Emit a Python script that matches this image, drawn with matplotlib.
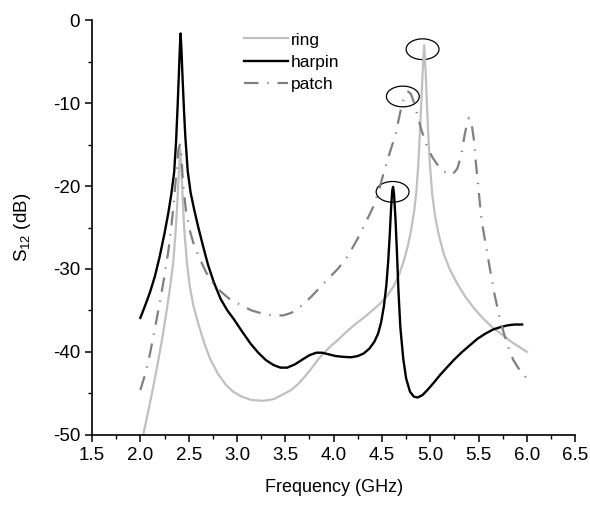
import matplotlib
matplotlib.use("Agg")
import matplotlib.pyplot as plt
from matplotlib.patches import Ellipse
from matplotlib.ticker import MultipleLocator

plt.rcParams['font.family'] = ['Liberation Sans', 'DejaVu Sans']
plt.rcParams['mathtext.default'] = 'regular'
plt.rcParams['axes.unicode_minus'] = False

# ring resonator
ring_f = [2.03, 2.07, 2.12, 2.17, 2.22, 2.27, 2.31, 2.34, 2.365, 2.385, 2.40, 2.412,
          2.425, 2.44, 2.455, 2.48, 2.51, 2.55, 2.60, 2.66, 2.72, 2.80, 2.88, 2.96,
          3.05, 3.15, 3.27, 3.38, 3.48, 3.56, 3.63, 3.70, 3.77, 3.84, 3.90, 3.97, 4.05,
          4.14, 4.23, 4.32, 4.41, 4.48, 4.55, 4.62, 4.68, 4.73, 4.77, 4.80, 4.83, 4.855,
          4.875, 4.893, 4.907, 4.92, 4.937, 4.953, 4.965, 4.978, 4.995, 5.02, 5.05,
          5.09, 5.14, 5.20, 5.28, 5.36, 5.45, 5.54, 5.64, 5.74, 5.84, 5.92, 6.00]
ring_db = [-50.0, -47.8, -45.0, -42.0, -38.8, -35.2, -32.0, -29.2, -25.5, -21.5, -18.0,
           -15.5, -18.0, -22.0, -25.3, -29.0, -32.0, -34.5, -36.6, -38.9, -40.8, -42.6,
           -43.9, -44.8, -45.4, -45.8, -45.9, -45.7, -45.1, -44.6, -43.9, -43.0, -42.0,
           -40.9, -40.1, -39.3, -38.5, -37.5, -36.6, -35.8, -34.9, -34.2, -33.3, -32.1,
           -30.6, -28.9, -27.1, -25.4, -23.3, -20.8, -17.6, -13.5, -10.0, -6.5, -3.0,
           -6.5, -10.0, -13.5, -17.2, -21.0, -23.7, -26.0, -28.2, -30.0, -31.8, -33.3,
           -34.7, -35.9, -37.0, -37.9, -38.8, -39.4, -40.0]

# hairpin resonator
harpin_f = [2.00, 2.05, 2.10, 2.15, 2.20, 2.25, 2.29, 2.32, 2.35, 2.37, 2.385, 2.40,
            2.41, 2.416, 2.425, 2.435, 2.45, 2.465, 2.49, 2.52, 2.56, 2.60, 2.65, 2.70,
            2.76, 2.83, 2.90, 2.97, 3.05, 3.14, 3.22, 3.30, 3.38, 3.45, 3.52, 3.60,
            3.68, 3.75, 3.82, 3.88, 3.95, 4.02, 4.10, 4.18, 4.25, 4.31, 4.37, 4.42,
            4.46, 4.49, 4.52, 4.545, 4.565, 4.58, 4.595, 4.607, 4.615, 4.625, 4.64,
            4.655, 4.67, 4.69, 4.72, 4.75, 4.79, 4.83, 4.87, 4.92, 4.97, 5.03, 5.10,
            5.17, 5.25, 5.33, 5.41, 5.49, 5.57, 5.65, 5.73, 5.80, 5.87, 5.95]
harpin_db = [-35.9, -34.4, -32.8, -30.9, -28.5, -25.7, -23.2, -21.0, -18.3, -14.5,
             -10.5, -6.0, -3.0, -1.6, -3.5, -6.5, -10.5, -14.0, -18.2, -20.8, -23.0,
             -25.0, -27.3, -29.5, -31.6, -33.6, -35.0, -36.1, -37.5, -39.0, -40.1,
             -41.0, -41.6, -41.9, -41.9, -41.5, -40.9, -40.4, -40.1, -40.1, -40.3,
             -40.5, -40.6, -40.65, -40.5, -40.2, -39.6, -38.8, -37.8, -36.5, -34.5,
             -32.0, -29.0, -26.0, -22.5, -20.5, -20.1, -21.0, -24.0, -28.0, -32.5,
             -37.0, -40.8, -43.2, -44.8, -45.4, -45.5, -45.2, -44.6, -43.8, -42.8,
             -41.9, -40.9, -40.0, -39.2, -38.4, -37.8, -37.3, -37.0, -36.8, -36.7, -36.7]

# patch resonator
patch_f = [2.00, 2.05, 2.10, 2.15, 2.20, 2.25, 2.29, 2.32, 2.35, 2.375, 2.395, 2.41,
           2.425, 2.44, 2.47, 2.51, 2.56, 2.62, 2.68, 2.75, 2.83, 2.92, 3.03, 3.15,
           3.27, 3.38, 3.48, 3.56, 3.63, 3.70, 3.78, 3.86, 3.96, 4.05, 4.15, 4.25,
           4.34, 4.41, 4.47, 4.52, 4.58, 4.64, 4.68, 4.71, 4.74, 4.77, 4.80, 4.83,
           4.87, 4.91, 4.96, 5.02, 5.09, 5.17, 5.23, 5.28, 5.32, 5.35, 5.38, 5.40,
           5.425, 5.45, 5.47, 5.50, 5.53, 5.57, 5.61, 5.66, 5.71, 5.76, 5.81, 5.86,
           5.93, 6.00]
patch_db = [-44.6, -42.7, -40.2, -37.2, -34.1, -30.8, -27.8, -25.0, -21.5, -18.0, -15.5,
            -15.0, -16.3, -19.5, -22.8, -25.3, -27.3, -28.9, -30.4, -31.7, -32.7, -33.6,
            -34.3, -35.0, -35.4, -35.6, -35.6, -35.3, -34.8, -34.1, -33.2, -32.2, -31.0,
            -29.9, -28.4, -26.3, -24.2, -22.5, -20.5, -18.3, -16.0, -13.8, -11.6, -10.0,
            -9.0, -8.6, -8.9, -9.9, -11.6, -13.3, -15.0, -16.5, -17.7, -18.5, -18.6,
            -17.9, -16.3, -14.2, -12.4, -11.8, -12.3, -14.3, -17.0, -20.5, -24.1, -26.8,
            -29.5, -32.8, -35.5, -37.7, -39.5, -41.0, -42.3, -43.2]

# peaks marked with ellipses (centre freq, centre dB)
marks = [(4.92, -3.5), (4.716, -9.2), (4.61, -20.7)]

fig = plt.figure(figsize=(5.9, 5.05), dpi=100)
ax = fig.add_axes([0.156, 0.139, 0.819, 0.821])

ax.plot(ring_f, ring_db, color='#c0c0c0', lw=1.6, label='ring')
ax.plot(harpin_f, harpin_db, color='black', lw=1.7, label='harpin')
ax.plot(patch_f, patch_db, color='#808080', lw=1.6,
        linestyle=(0, (6.5, 4, 0.6, 4)), label='patch')

for fx, fy in marks:
    ax.add_patch(Ellipse((fx, fy), 0.34, 2.5, fill=False, edgecolor='black', lw=0.9))

ax.set_xlim(1.5, 6.5)
ax.set_ylim(-50, 0)
ax.xaxis.set_major_locator(MultipleLocator(0.5))
ax.xaxis.set_minor_locator(MultipleLocator(0.25))
ax.yaxis.set_major_locator(MultipleLocator(10))
ax.yaxis.set_minor_locator(MultipleLocator(5))
ax.xaxis.set_major_formatter(plt.FormatStrFormatter('%.1f'))

for s in ['top', 'right']:
    ax.spines[s].set_visible(False)
for s in ['left', 'bottom']:
    ax.spines[s].set_linewidth(1.2)
ax.tick_params(which='major', direction='out', length=5, width=1.1, labelsize=13.5)
ax.tick_params(which='minor', direction='out', length=3, width=1.0)

ax.set_xlabel('Frequency (GHz)', fontsize=13, labelpad=11)
ax.set_ylabel('S$_{12}$ (dB)', fontsize=13.5, labelpad=14)

ax.legend(loc='upper left', bbox_to_anchor=(0.29, 1.0), frameon=False, fontsize=12.5,
          handlelength=2.5, handletextpad=0.2, labelspacing=0.4, borderaxespad=0.3)

fig.savefig('out.png', dpi=100)
